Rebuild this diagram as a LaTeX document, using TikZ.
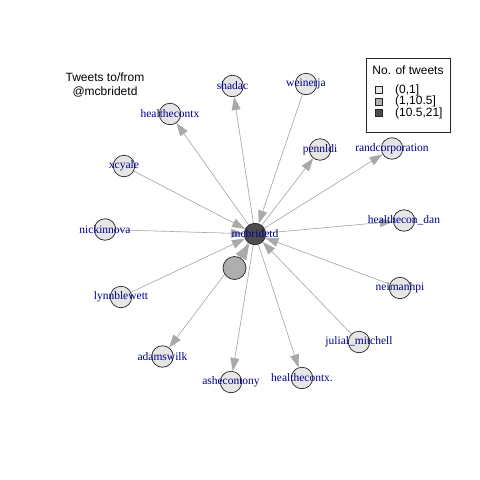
\documentclass[tikz,border=0pt]{standalone}
\usepackage{fontspec}
\setmainfont{Liberation Serif}
\newfontfamily\helv{Liberation Sans}
\usepackage{tikz}
\usetikzlibrary{arrows.meta,backgrounds}
\definecolor{low}{HTML}{E6E6E6}
\definecolor{mid}{HTML}{AEAEAE}
\definecolor{high}{HTML}{4D4D4D}
\definecolor{edgegray}{HTML}{A9A9A9}
\definecolor{labblue}{HTML}{00008B}

\begin{document}
\begin{tikzpicture}[
    x=1pt, y=-1pt,
    vert/.style={circle, draw=black!85, line width=0.7pt, fill=low, minimum size=21.5pt, inner sep=0pt,
      label={[labblue, font=\fontsize{11.5}{12}\selectfont, inner sep=0pt]center:#1}},
    edge/.style={-{Triangle[length=13pt, width=9pt]}, draw=edgegray, fill=edgegray, line width=0.6pt},
    bigedge/.style={-{Triangle[length=16pt, width=12pt]}, draw=edgegray, fill=edgegray, line width=1.4pt},
    legtxt/.style={font=\helv\fontsize{12}{14}\selectfont, inner sep=0pt},
    swatch/.style={draw=black!85, line width=0.6pt, minimum size=7pt, inner sep=0pt}
  ]
    \useasboundingbox (0,0) rectangle (480,480);

    % title
    \node[legtxt, align=center] (title) at (105,85) {Tweets to/from\\@mcbridetd};

    % vertices
    \node[vert=mcbridetd, fill=high] (mcbridetd) at (255,234) {};
    \node[vert=, fill=mid, minimum size=23pt] (nolabel) at (234.5,268) {};
    \node[vert=shadac] (shadac) at (232.5,86) {};
    \node[vert=weinerja] (weinerja) at (306,84) {};
    \node[vert=healthecontx] (healthecontx) at (170,114) {};
    \node[vert=pennldi] (pennldi) at (320,149.5) {};
    \node[vert=randcorporation] (randcorp) at (392,148.5) {};
    \node[vert=xcyale] (xcyale) at (124,166) {};
    \node[vert=nickinnova] (nickinnova) at (105,229.5) {};
    \node[vert=healthecon\_dan] (healthecondan) at (404,220.5) {};
    \node[vert=lynnblewett] (lynnblewett) at (121,297) {};
    \node[vert=neimanhpi] (neimanhpi) at (400,288) {};
    \node[vert=julial\_mitchell] (julial) at (359,342) {};
    \node[vert=adamswilk] (adamswilk) at (162.5,356.5) {};
    \node[vert=ashecontony] (ashecontony) at (231,382) {};
    \node[vert=healthecontx.] (healthecontxb) at (302,378) {};

    % edges under the vertices
    \begin{scope}[on background layer]
    \draw[edge] (mcbridetd) -- (shadac);
    \draw[edge] (mcbridetd) -- (healthecontx);
    \draw[edge] (mcbridetd) -- (pennldi);
    \draw[edge] (mcbridetd) -- (randcorp);
    \draw[edge] (mcbridetd) -- (healthecondan);
    \draw[edge] (mcbridetd) -- (adamswilk);
    \draw[edge] (mcbridetd) -- (ashecontony);
    \draw[edge] (mcbridetd) -- (healthecontxb);
    \draw[edge] (weinerja) -- (mcbridetd);
    \draw[edge] (xcyale) -- (mcbridetd);
    \draw[edge] (nickinnova) -- (mcbridetd);
    \draw[edge] (lynnblewett) -- (mcbridetd);
    \draw[edge] (neimanhpi) -- (mcbridetd);
    \draw[edge] (julial) -- (mcbridetd);
    \draw[bigedge] (nolabel) -- (mcbridetd);
    \end{scope}

    % legend
    \node[draw=black!85, line width=0.7pt, minimum width=84pt, minimum height=74pt, inner sep=0pt] (legend) at (408,95) {};
    \node[legtxt] (legtitle) at (408,70) {No. of tweets};
    \node[swatch, fill=low] (sw1) at (379,90) {};
    \node[swatch, fill=mid] (sw2) at (379,101.5) {};
    \node[swatch, fill=high] (sw3) at (379,113) {};
    \node[legtxt, anchor=west] (lg1) at (395,90) {(0,1]};
    \node[legtxt, anchor=west] (lg2) at (395,101.5) {(1,10.5]};
    \node[legtxt, anchor=west] (lg3) at (395,113) {(10.5,21]};
\end{tikzpicture}
\end{document}
